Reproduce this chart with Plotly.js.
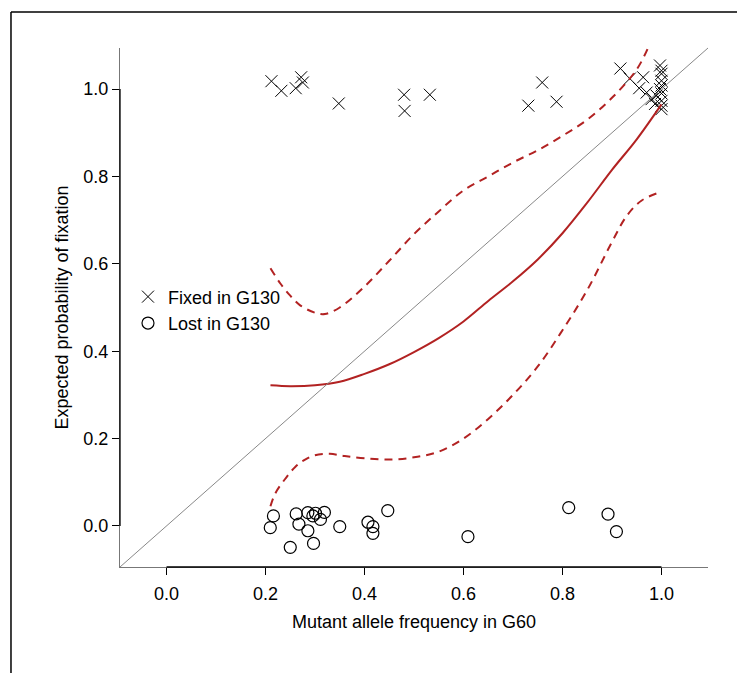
<!DOCTYPE html>
<html>
<head>
<meta charset="utf-8">
<script src="https://cdn.plot.ly/plotly-3.0.1.min.js"></script>
<style>html,body{margin:0;padding:0;background:#fff;}#chart{width:737px;height:673px;}</style>
</head>
<body>
<div id="chart"></div>
<script>
// Points: alleles fixed in G130 (crosses)
var fixedX = [0.212, 0.232, 0.261, 0.272, 0.2755, 0.348, 0.480, 0.481, 0.532, 0.731, 0.759, 0.788,
              0.917, 0.936, 0.955, 0.963, 0.970, 0.980, 0.987, 0.990, 0.997, 0.997,
              1.0, 1.0, 1.0, 1.0, 1.0, 1.0, 1.0, 1.0];
var fixedY = [1.018, 0.996, 1.002, 1.027, 1.015, 0.967, 0.987, 0.950, 0.987, 0.962, 1.015, 0.971,
              1.047, 1.024, 1.002, 1.027, 0.992, 0.977, 0.966, 0.985, 1.054, 1.000,
              1.042, 1.035, 1.019, 1.008, 0.990, 0.973, 0.962, 0.954];
// Points: alleles lost in G130 (circles)
var lostX = [0.216, 0.2096, 0.250, 0.262, 0.2675, 0.2856, 0.2856, 0.2957, 0.301, 0.297, 0.311,
             0.319, 0.350, 0.407, 0.417, 0.417, 0.447, 0.609, 0.8126, 0.892, 0.909];
var lostY = [0.023, -0.004, -0.049, 0.0275, 0.004, 0.0305, -0.011, 0.023, 0.029, -0.040, 0.015,
             0.031, -0.0015, 0.0085, -0.0015, -0.017, 0.035, -0.0245, 0.042, 0.027, -0.013];
// Fitted expected probability of fixation (solid) and its bounds (dashed)
var fitX = [0.21, 0.25, 0.30, 0.35, 0.40, 0.45, 0.50, 0.55, 0.60, 0.65, 0.70, 0.75, 0.80, 0.85, 0.90, 0.95, 1.00];
var fitY = [0.322, 0.320, 0.322, 0.330, 0.348, 0.370, 0.398, 0.430, 0.468, 0.515, 0.560, 0.610, 0.670, 0.740, 0.815, 0.885, 0.965];
var upperX = [0.21, 0.23, 0.25, 0.27, 0.30, 0.32, 0.35, 0.40, 0.45, 0.50, 0.55, 0.60, 0.65, 0.70, 0.75, 0.80, 0.85, 0.90, 0.95, 0.975];
var upperY = [0.590, 0.555, 0.527, 0.505, 0.488, 0.485, 0.500, 0.548, 0.607, 0.668, 0.720, 0.768, 0.800, 0.832, 0.860, 0.893, 0.930, 0.980, 1.045, 1.100];
var lowerX = [0.21, 0.22, 0.24, 0.26, 0.28, 0.30, 0.33, 0.36, 0.40, 0.45, 0.50, 0.55, 0.60, 0.65, 0.70, 0.75, 0.80, 0.85, 0.90, 0.93, 0.96, 1.00];
var lowerY = [0.045, 0.075, 0.108, 0.135, 0.152, 0.162, 0.165, 0.160, 0.155, 0.152, 0.157, 0.170, 0.200, 0.245, 0.300, 0.365, 0.448, 0.540, 0.650, 0.710, 0.745, 0.765];
var tickVals = [0, 0.2, 0.4, 0.6, 0.8, 1.0];
var tickText = ['0.0', '0.2', '0.4', '0.6', '0.8', '1.0'];
var axisRange = [-0.094, 1.094];

var red = '#b22222';
var traces = [
  {x: fixedX, y: fixedY, type: 'scatter', mode: 'markers', name: 'Fixed in G130',
   marker: {symbol: 'x-thin-open', size: 12, color: '#000', line: {color: '#000', width: 1}}},
  {x: lostX, y: lostY, type: 'scatter', mode: 'markers', name: 'Lost in G130',
   marker: {symbol: 'circle-open', size: 12, color: '#000', line: {color: '#000', width: 1.2}}},
  {x: fitX, y: fitY, type: 'scatter', mode: 'lines', showlegend: false,
   line: {color: red, width: 2, shape: 'spline'}},
  {x: upperX, y: upperY, type: 'scatter', mode: 'lines', showlegend: false,
   line: {color: red, width: 2, shape: 'spline', dash: '8px,6px'}},
  {x: lowerX, y: lowerY, type: 'scatter', mode: 'lines', showlegend: false,
   line: {color: red, width: 2, shape: 'spline', dash: '8px,6px'}}
];

var fontFam = '"Liberation Sans", Arial, sans-serif';
var layout = {
  width: 737, height: 673,
  margin: {l: 120, r: 29, t: 48, b: 106},
  paper_bgcolor: '#fff', plot_bgcolor: '#fff',
  font: {family: fontFam, size: 18, color: '#000'},
  showlegend: true,
  legend: {x: 0.0136, xanchor: 'left', y: 0.556, yanchor: 'top', bgcolor: 'rgba(0,0,0,0)',
           font: {family: fontFam, size: 18, color: '#000'}, borderwidth: 0},
  xaxis: {range: axisRange, tickvals: tickVals, ticktext: tickText, showgrid: false, zeroline: false,
          ticks: 'outside', ticklen: 7, tickcolor: '#000', tickwidth: 1, ticklabelstandoff: 3,
          showline: true, linecolor: '#777', linewidth: 1,
          tickfont: {family: fontFam, size: 18, color: '#000'},
          title: {text: 'Mutant allele frequency in G60', standoff: 12, font: {family: fontFam, size: 18, color: '#000'}}},
  yaxis: {range: axisRange, tickvals: tickVals, ticktext: tickText, showgrid: false, zeroline: false,
          ticks: 'outside', ticklen: 7, tickcolor: '#000', tickwidth: 1,
          showline: true, linecolor: '#777', linewidth: 1,
          tickfont: {family: fontFam, size: 18, color: '#000'},
          title: {text: 'Expected probability of fixation', standoff: 10, font: {family: fontFam, size: 18, color: '#000'}}},
  shapes: [
    // y = x reference line
    {type: 'line', xref: 'paper', yref: 'paper', x0: 0, y0: 0, x1: 1, y1: 1, line: {color: '#888', width: 1}},
    // black axis segments from 0 to 1
    {type: 'line', xref: 'x', yref: 'paper', x0: 0, x1: 1, y0: 0, y1: 0, line: {color: '#000', width: 1.3}},
    {type: 'line', xref: 'paper', yref: 'y', x0: 0, x1: 0, y0: 0, y1: 1, line: {color: '#000', width: 1.3}},
    // figure frame (top and left)
    {type: 'line', xref: 'paper', yref: 'paper', x0: -0.1854, x1: 1.1, y0: 1.0694, y1: 1.0694, line: {color: '#000', width: 1.5}},
    {type: 'line', xref: 'paper', yref: 'paper', x0: -0.1854, x1: -0.1854, y0: 1.0694, y1: -0.25, line: {color: '#000', width: 1.5}}
  ]
};
Plotly.newPlot('chart', traces, layout, {displayModeBar: false, staticPlot: true});
</script>
</body>
</html>
